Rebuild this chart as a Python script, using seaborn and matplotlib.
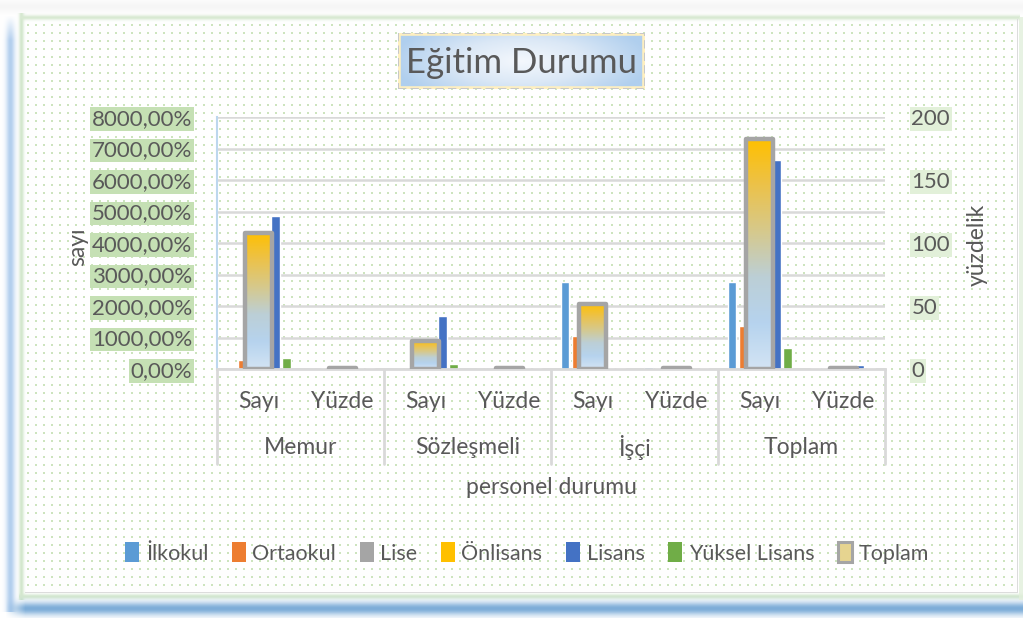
import numpy as np
import pandas as pd
import seaborn as sns
import matplotlib.pyplot as plt
from matplotlib import transforms
from matplotlib.colors import LinearSegmentedColormap, to_rgb
from matplotlib.patches import Patch, Rectangle

# --- data ---------------------------------------------------------------
gruplar = ['Memur', 'Sözleşmeli', 'İşçi', 'Toplam']
alt_gruplar = ['Sayı', 'Yüzde']
seviyeler = ['İlkokul', 'Ortaokul', 'Lise', 'Önlisans', 'Lisans', 'Yüksel Lisans']

# order: Memur Sayı, Memur Yüzde, Sözleşmeli Sayı, ..., Toplam Yüzde
ilkokul = [0, 0, 0, 0, 27.6, 0.5, 27.6, 0.4]
ortaokul = [3, 0.35, 0, 0, 10.5, 0.35, 13.7, 0.35]
lise = [8, 0.1, 1, 0.1, 4, 0.1, 13, 0.1]
onlisans = [35, 0.3, 3, 0.2, 9, 0.2, 47, 0.3]
lisans = [48.6, 0.35, 16.8, 0.35, 0.3, 0.1, 66.3, 1.2]
yuksek_lisans = [3.6, 0.35, 1.6, 0.35, 0.3, 0.35, 6.7, 0.35]
toplam = [108, 1, 22.6, 1, 51.6, 1, 182.5, 1]   # secondary axis

renkler = ['#5b9bd5', '#ed7d31', '#a5a5a5', '#ffc000', '#4472c4', '#70ad47']
yazi = '#595959'

sns.set_style('white')
plt.rcParams['font.family'] = ['Lato', 'DejaVu Sans']

W, H = 1023, 618
fig = plt.figure(figsize=(W / 100, H / 100), dpi=100, facecolor='white')


def fx(px):
    return px / W


def fy(py):
    return 1 - py / H


# --- frame / dotted background ------------------------------------------
yy, xx = np.mgrid[0:H, 0:W].astype(float)
img = np.ones((H, W, 3))


def mix(img, col, a):
    col = np.array(to_rgb(col))
    a = np.clip(a, 0, 1)[..., None]
    return img * (1 - a) + col * a


blue_l = np.exp(-((xx - 10) / 4.5) ** 2) * np.clip((yy - 15) / 25, 0, 1) * (yy < 612)
img = mix(img, '#b3cfee', blue_l)
green_l = np.exp(-((xx - 21) / 2.5) ** 2) * (yy > 12) * (yy < 600)
img = mix(img, '#d3e7cd', green_l)
green_t = np.exp(-((yy - 17) / 2.5) ** 2) * (xx > 20) * (xx < 1020)
img = mix(img, '#d8e9d2', green_t)
img = mix(img, '#eeeeee', np.exp(-((yy - 6) / 6) ** 2) * 0.5)
green_b = np.exp(-((yy - 596) / 2.5) ** 2) * (xx > 18)
img = mix(img, '#d5e8d0', green_b)
blue_b = np.exp(-((yy - 608) / 6.5) ** 2) * np.clip((xx - 5) / 20, 0, 1)
img = mix(img, '#7dadd8', blue_b)
img = mix(img, '#dcdcdc', (np.abs(yy - 592) < 1) * (xx > 24) * (xx < 1018))
img = mix(img, '#dcdcdc', (np.abs(xx - 1017) < 1) * (yy > 18) * (yy < 593))
img = mix(img, '#e2efdc', (xx > 1018) * (yy > 16) * (yy < 600) * 0.8)

dot = np.array(to_rgb('#cde4be'))
for y0 in range(24, 590, 8):
    for x0 in range(27, 1014, 8):
        img[y0:y0 + 2, x0:x0 + 2] = dot

bg = fig.add_axes([0, 0, 1, 1], zorder=0)
bg.imshow(img, extent=(0, W, H, 0), aspect='auto', interpolation='nearest')
bg.set_xlim(0, W)
bg.set_ylim(H, 0)
bg.axis('off')

# --- main plot ----------------------------------------------------------
etiketler = [f'{g}-{a}' for g in gruplar for a in alt_gruplar]
seriler = [ilkokul, ortaokul, lise, onlisans, lisans, yuksek_lisans]
df = pd.DataFrame({
    'grup': np.tile(etiketler, len(seviyeler)),
    'seviye': np.repeat(seviyeler, len(etiketler)),
    'deger': np.concatenate(seriler),
})

ax = fig.add_axes([fx(217), fy(369), fx(885) - fx(217), fy(117) - fy(369)], zorder=2)
ax.set_facecolor('none')
sns.barplot(data=df, x='grup', y='deger', hue='seviye', order=etiketler,
            hue_order=seviyeler, palette=renkler, width=0.8, gap=0.25,
            errorbar=None, legend=False, ax=ax, saturation=1)
ax.set_ylim(0, 80)
ax.set_yticks(np.arange(0, 81, 10))
ax.set_yticklabels([f'{v * 100:.0f},00%' for v in range(0, 81, 10)])
ax.yaxis.grid(True, color='#d9d9d9', lw=1.8)
ax.set_axisbelow(True)
ax.set_xlabel('')
ax.set_ylabel('')
ax.tick_params(axis='x', length=0, labelbottom=False)
ax.tick_params(axis='y', length=0, pad=18, labelsize=16, labelcolor=yazi)
for lab in ax.get_yticklabels():
    lab.set_bbox(dict(facecolor='#c5e0b4', edgecolor='none', pad=1.3))
for s in ['top', 'right']:
    ax.spines[s].set_visible(False)
ax.spines['left'].set_color('#bdd7ee')
ax.spines['left'].set_linewidth(1.5)
ax.spines['bottom'].set_color('#d9d9d9')
ax.spines['bottom'].set_linewidth(2)

# Toplam on secondary axis, gradient filled
ax2 = ax.twinx()
sns.barplot(x=etiketler, y=toplam, order=etiketler, color='#a5a5a5', width=0.32,
            errorbar=None, ax=ax2, saturation=1)
grad_cmap = LinearSegmentedColormap.from_list('toplam', [
    (0.0, '#d3e4f4'), (0.2, '#b6d3ee'), (0.4, '#bccfd6'),
    (0.6, '#d6c98c'), (0.8, '#ecc24a'), (1.0, '#ffc000')])
grad = np.linspace(0, 1, 256)[:, None]
for p in ax2.patches:
    x0, w, h = p.get_x(), p.get_width(), p.get_height()
    im = ax2.imshow(grad, extent=(x0, x0 + w, 0, h), origin='lower',
                    aspect='auto', cmap=grad_cmap, zorder=0.9)
    im.set_clip_path(p)
    p.set_facecolor('none')
    p.set_edgecolor('#a5a5a5')
    p.set_linewidth(3.2)
    p.set_joinstyle('round')
ax2.set_xlim(-0.5, len(etiketler) - 0.5)
ax2.set_ylim(0, 200)
ax2.set_yticks(np.arange(0, 201, 50))
ax2.set_yticklabels([str(v) for v in range(0, 201, 50)])
ax2.tick_params(axis='y', length=0, pad=19, labelsize=16, labelcolor=yazi)
ax2.tick_params(axis='x', length=0, labelbottom=False)
for lab in ax2.get_yticklabels():
    lab.set_bbox(dict(facecolor='#e2f0d9', edgecolor='none', pad=1.3))
for s in ax2.spines.values():
    s.set_visible(False)
ax2.set_ylabel('')

# multi-level category axis
tr = transforms.blended_transform_factory(ax.transData, fig.transFigure)
for xs in np.arange(-0.5, len(etiketler), 2):
    ax.plot([xs, xs], [fy(369), fy(464)], transform=tr, color='#d9d9d9',
            lw=2, clip_on=False)
for i, et in enumerate(etiketler):
    ax.text(i, fy(401), et.split('-')[1], transform=tr, ha='center',
            va='center', fontsize=16.5, color=yazi)
for j, g in enumerate(gruplar):
    ax.text(2 * j + 0.5, fy(447), g, transform=tr, ha='center', va='center',
            fontsize=16.5, color=yazi)

fig.text(fx(551), fy(487), 'personel durumu', ha='center', va='center',
         fontsize=16.5, color=yazi)
fig.text(fx(78), fy(247), 'sayı', ha='center', va='center', rotation=90,
         fontsize=16.5, color=yazi)
fig.text(fx(977), fy(245), 'yüzdelik', ha='center', va='center', rotation=90,
         fontsize=16.5, color=yazi)

# title box
tax = fig.add_axes([fx(398), fy(89), fx(645) - fx(398), fy(33) - fy(89)], zorder=3)
gy, gx = np.mgrid[-1:1:60j, -1:1:250j]
r = np.clip(np.sqrt((gx / 1.05) ** 2 + (gy / 1.6) ** 2), 0, 1)
title_cmap = LinearSegmentedColormap.from_list('t', ['#f4f8fd', '#dbe8f6', '#b0cfee'])
tax.imshow(r, cmap=title_cmap, extent=(0, 1, 0, 1), aspect='auto', vmin=0, vmax=1)
tax.add_patch(Rectangle((0, 0), 1, 1, transform=tax.transAxes, fill=False,
                        edgecolor='#fff0c0', lw=4))
tax.add_patch(Rectangle((0, 0), 1, 1, transform=tax.transAxes, fill=False,
                        edgecolor='#c8c8c8', lw=1.5, ls=(0, (4, 2))))
tax.set_xlim(0, 1)
tax.set_ylim(0, 1)
tax.axis('off')
tax.text(0.5, 0.47, 'Eğitim Durumu', ha='center', va='center', fontsize=25,
         color=yazi, transform=tax.transAxes)

# legend
handles = [Patch(facecolor=c, edgecolor='none', label=s) for s, c in zip(seviyeler, renkler)]
handles.append(Patch(facecolor='#e6d490', edgecolor='#a5a5a5', lw=2.2, label='Toplam'))
leg = fig.legend(handles=handles, loc='center', bbox_to_anchor=(fx(527), fy(553)),
                 ncol=7, frameon=False, fontsize=15.5, handlelength=0.65,
                 handleheight=1.0, handletextpad=0.3, columnspacing=1.1)
for t in leg.get_texts():
    t.set_color(yazi)

fig.savefig('out.png', dpi=100, facecolor='white')
